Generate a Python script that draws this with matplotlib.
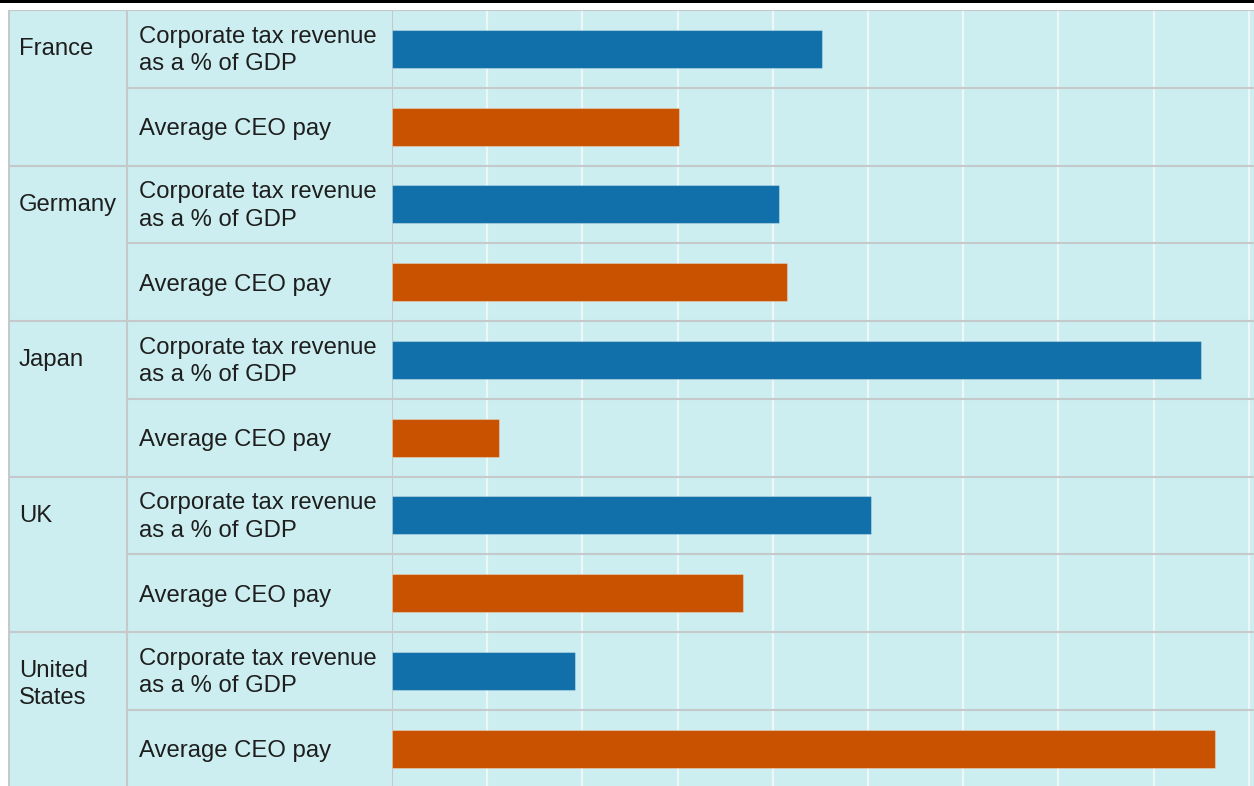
import matplotlib.pyplot as plt
from matplotlib.patches import Rectangle

countries = ["France", "Germany", "Japan", "UK", "United\nStates"]
measures = ["Corporate tax revenue\nas a % of GDP", "Average CEO pay"]
tax_revenue = [4.52, 4.07, 8.50, 5.03, 1.92]
ceo_pay = [3.01, 4.15, 1.12, 3.69, 8.64]

BG = "#cceef0"
GRID = "#eef7f7"
RULE = "#c6c9ca"
TEXT = "#1e1e1e"
BLUE = "#1170aa"
ORANGE = "#c85200"

plt.rcParams["font.family"] = ["Liberation Sans", "DejaVu Sans"]

W, H = 1254, 786
ROW_PX = 77.75
LINE_GAP = 27 / ROW_PX  # distance between text baselines, in row units

fig = plt.figure(figsize=(W / 100, H / 100), dpi=100)
fig.patch.set_facecolor("white")

n_rows = 2 * len(countries)
ymax = (H - 10) / ROW_PX
top = (H - 10) / H

# label table on the left, bars on the right
tab = fig.add_axes([8 / W, 0, (392 - 8) / W, top])
ax = fig.add_axes([392 / W, 0, (W - 392) / W, top], sharey=tab)
tab.set_xlim(0, 384)
ax.set_xlim(0, (W - 392) / 95.2)
tab.set_ylim(ymax, 0)

for a in (tab, ax):
    a.set_facecolor(BG)
    for s in a.spines.values():
        s.set_visible(False)
    a.tick_params(left=False, bottom=False, labelleft=False, labelbottom=False)

# white vertical grid behind bars
for gx in range(1, 10):
    ax.axvline(gx, color=GRID, lw=1.6, zorder=0)

values = []
for t, c in zip(tax_revenue, ceo_pay):
    values += [t, c]
colors = [BLUE, ORANGE] * len(countries)
ypos = [i + 0.5 for i in range(n_rows)]
ax.barh(ypos, values, height=0.49, color=colors, zorder=3,
        edgecolor=(1, 1, 1, 0.3), linewidth=0.8)

# row rules
for r in range(0, n_rows + 1):
    if r % 2 == 0:
        tab.axhline(r, color=RULE, lw=1.5, zorder=2)
    else:
        tab.plot([119, 384], [r, r], color=RULE, lw=1.5, zorder=2)
    ax.axhline(r, color=RULE, lw=1.5, zorder=2)
for vx in (0.8, 119):
    tab.axvline(vx, color=RULE, lw=1.5, zorder=2)
ax.axvline(0, color=RULE, lw=1.5, zorder=2)


def cell_text(x, y_first, s):
    # va="baseline" pins the last line, so shift by the extra lines
    extra = s.count("\n") * LINE_GAP
    tab.text(x, y_first + extra, s, fontsize=17.2, color=TEXT,
             ha="left", va="baseline", linespacing=1.32)


for k, name in enumerate(countries):
    r0 = 2 * k
    cell_text(11, r0 + 0.58, name)
    cell_text(131, r0 + 0.43, measures[0])
    cell_text(131, r0 + 1 + 0.61, measures[1])

# black rule across the top
fig.add_artist(Rectangle((0, 1 - 3 / H), 1, 3 / H, transform=fig.transFigure,
                         facecolor="black", edgecolor="none"))

fig.savefig("out.png", dpi=100, facecolor="white")
